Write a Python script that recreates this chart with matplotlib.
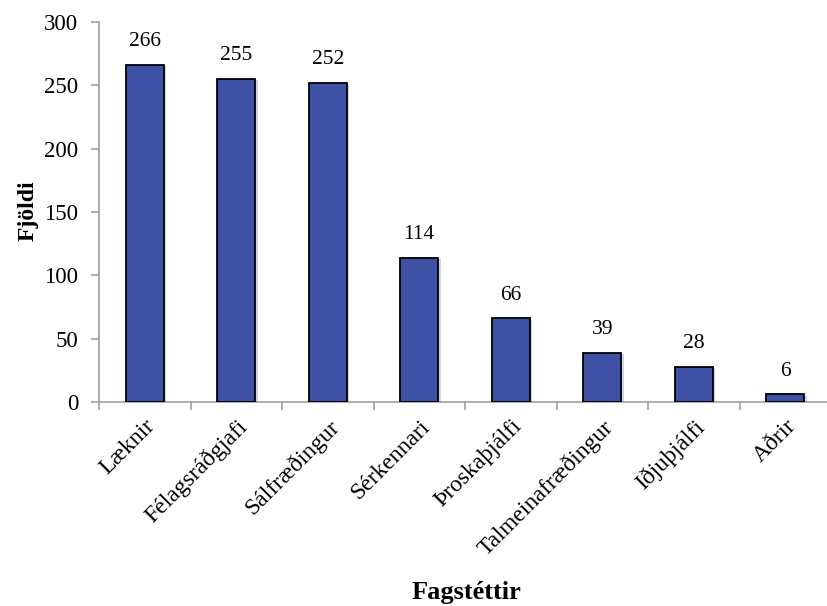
import matplotlib
matplotlib.use("Agg")
import matplotlib.pyplot as plt
import matplotlib.patheffects as pe
import numpy as np

categories = ["Læknir", "Félagsráðgjafi", "Sálfræðingur", "Sérkennari",
              "Þroskaþjálfi", "Talmeinafræðingur", "Iðjuþjálfi", "Aðrir"]
counts = [266, 255, 252, 114, 66, 39, 28, 6]
y_ticks = [0, 50, 100, 150, 200, 250, 300]

plt.rcParams["font.family"] = ["Liberation Serif", "DejaVu Serif"]

fig = plt.figure(figsize=(8.27, 6.06), dpi=100)
ax = fig.add_axes([99 / 827, 204 / 606, 732 / 827, 380 / 606])

x = np.arange(len(categories))
bars = ax.bar(x, counts, width=0.42, color="#3F51A5", edgecolor="black",
              linewidth=1.3, zorder=3)
for b in bars:
    b.set_path_effects([pe.SimplePatchShadow(offset=(1.5, -1.0), alpha=0.18),
                        pe.Normal()])

for xi, v in zip(x, counts):
    ax.annotate(f"{v}", (xi, v), xytext=(0, 10), textcoords="offset points",
                ha="center", va="bottom", fontsize=15.5)

ax.set_xlim(-0.5, len(categories) - 0.5)
ax.set_ylim(0, 300)
ax.set_yticks(y_ticks)
ax.set_yticklabels([str(t) for t in y_ticks], fontsize=16.5)

ax.set_xticks(x)
ax.set_xticklabels(categories, rotation=45, ha="right", va="top",
                   rotation_mode="anchor", fontsize=17)
ax.tick_params(axis="x", length=0, pad=10)
ax.set_xticks(np.arange(len(categories) + 1) - 0.5, minor=True)
ax.tick_params(axis="x", which="minor", length=6, color="#A0A0A0", width=1.2)
ax.tick_params(axis="y", length=6, color="#A0A0A0", width=1.2, pad=9)

for side in ["top", "right"]:
    ax.spines[side].set_visible(False)
for side in ["left", "bottom"]:
    ax.spines[side].set_color("#A0A0A0")
    ax.spines[side].set_linewidth(1.2)

fig.text(28 / 827, 1 - 211 / 606, "Fjöldi", rotation=90, ha="center",
         va="center", fontsize=17, fontweight="bold")
fig.text(466 / 827, 1 - 592 / 606, "Fagstéttir", ha="center", va="center",
         fontsize=19, fontweight="bold")

fig.savefig("out.png", dpi=100)
